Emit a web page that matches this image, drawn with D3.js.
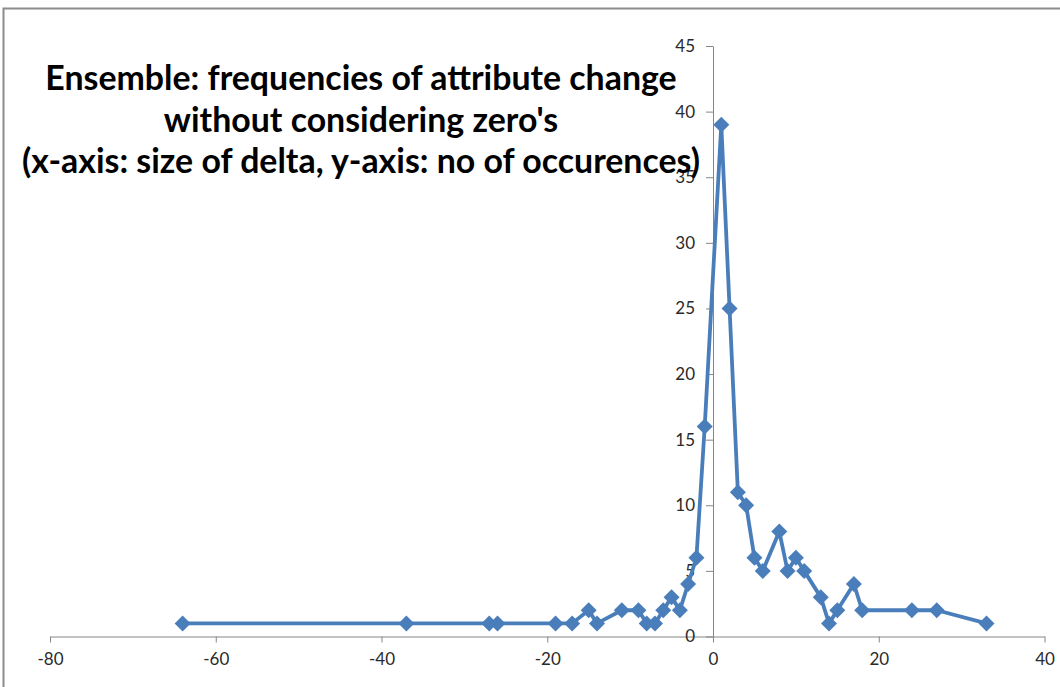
<!DOCTYPE html>
<html><head><meta charset="utf-8">
<script src="https://cdn.jsdelivr.net/npm/d3@7"></script>
<style>body{margin:0;background:#fff}svg{display:block}</style>
</head><body>
<script>
const deltas = [-64,-37,-27,-26,-19,-17,-15,-14,-11,-9,-8,-7,-6,-5,-4,-3,-2,-1,1,2,3,4,5,6,8,9,10,11,13,14,15,17,18,24,27,33];
const counts = [1,1,1,1,1,1,2,1,2,2,1,1,2,3,2,4,6,16,39,25,11,10,6,5,8,5,6,5,3,1,2,4,2,2,2,1];
const xTicks = [-80,-60,-40,-20,0,20,40];
const yTicks = [0,5,10,15,20,25,30,35,40,45];
const titleLines = ["Ensemble: frequencies of attribute change","without considering zero's","(x-axis: size of delta, y-axis: no of occurences)"];

const W=1060,H=687;
const svg=d3.select("body").append("svg").attr("width",W).attr("height",H);
svg.append("rect").attr("x",3.5).attr("y",8.5).attr("width",W+10).attr("height",H+10)
  .attr("fill","none").attr("stroke","#8c8c8c").attr("stroke-width",2);

const x=d3.scaleLinear().domain([-80,40]).range([50,1044.5]);
const y=d3.scaleLinear().domain([0,45]).range([636.5,46]);
const axisColor="#868686";
const font="Lato, 'Open Sans', sans-serif";
const fmt=d=>String(d);

const gx=svg.append("g").attr("transform",`translate(0,${y(0)})`)
  .call(d3.axisBottom(x).tickValues(xTicks).tickFormat(fmt).tickSize(6).tickSizeOuter(0).tickPadding(10));
const gy=svg.append("g").attr("transform",`translate(${x(0)},0)`)
  .call(d3.axisLeft(y).tickValues(yTicks).tickFormat(fmt).tickSize(7).tickSizeOuter(0).tickPadding(11));
[gx,gy].forEach(g=>{
  g.attr("font-size",null).attr("font-family",null);
  g.select(".domain").attr("stroke",axisColor).attr("stroke-width",1);
  g.selectAll(".tick line").attr("stroke",axisColor);
  g.selectAll("text").style("font-family",font).style("font-size","17px").attr("fill","#2a2a2a");
});

const data=deltas.map((d,i)=>({x:d,y:counts[i]}));
svg.append("path").datum(data)
  .attr("fill","none").attr("stroke","#4a7ebb").attr("stroke-width",3.8).attr("stroke-linejoin","round")
  .attr("d",d3.line().x(d=>x(d.x)).y(d=>y(d.y)));
svg.append("g").selectAll("path").data(data).join("path")
  .attr("transform",d=>`translate(${x(d.x)},${y(d.y)})`)
  .attr("d","M0,-8L8,0L0,8L-8,0Z").attr("fill","#4a7ebb");

const tg=svg.append("g");
const baselines=[90,132,173];
const texts=titleLines.map((t,i)=>tg.append("text").attr("x",361).attr("y",baselines[i])
  .attr("text-anchor","middle").style("font-family",font).attr("font-weight","bold")
  .style("font-size","28px").attr("fill","#000").text(t));
const w=texts[2].node().getComputedTextLength();
const fs=28*678/w;
texts.forEach(t=>t.style("font-size",fs+"px"));
</script>
</body></html>
